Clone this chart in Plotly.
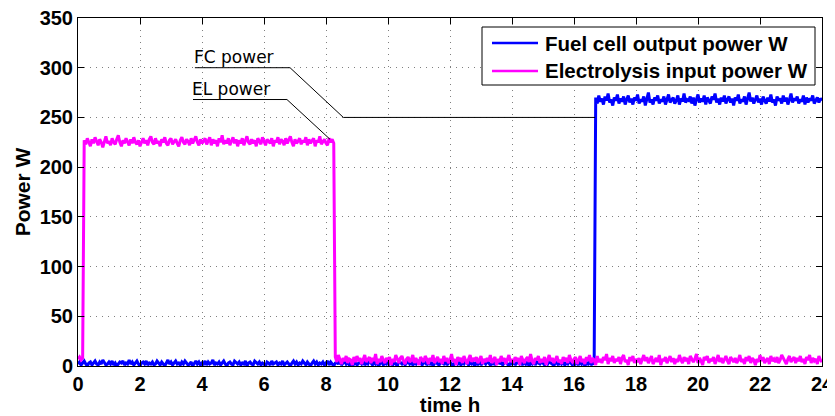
import numpy as np
import plotly.graph_objects as go

# sample grid: one reading every 0.05 h (3 min) over the day
time_h = np.round(np.arange(0, 481) * 0.05, 2)

# fuel cell output power (W)
fc_off = [  # 0 .. 16.65 h
    2, 4, 1, 3, 5, 2, 0, 3, 4, 1, 3, 5, 2, 1, 4, 2, 6, 3, 1, 2,
    4, 2, 5, 1, 3, 0, 2, 4, 3, 5, 1, 3, 2, 6, 2, 4, 1, 3, 5, 2,
    0, 3, 4, 2, 5, 1, 3, 2, 4, 1, 2, 5, 3, 1, 4, 2, 0, 3, 6, 2,
    4, 1, 3, 5, 2, 3, 1, 4, 2, 5, 3, 1, 2, 4, 0, 3, 5, 2, 4, 1,
    3, 2, 5, 1, 4, 2, 3, 6, 1, 3, 2, 4, 1, 3, 5, 2, 0, 3, 4, 2,
    1, 5, 3, 2, 4, 1, 3, 2, 5, 0, 3, 4, 2, 1, 5, 3, 2, 4, 1, 3,
    2, 0, 4, 3, 1, 5, 2, 3, 4, 1, 3, 2, 5, 1, 3, 4, 2, 0, 3, 5,
    2, 4, 1, 3, 2, 5, 3, 1, 4, 2, 0, 3, 5, 2, 4, 1, 3, 2, 4, 1,
    3, 5, 1, 4, 2, 0, 3, 4, 2, 6, 1, 3, 5, 2, 4, 1, 3, 0, 2, 4,
    1, 3, 4, 2, 5, 1, 3, 2, 6, 3, 1, 4, 2, 5, 0, 3, 4, 1, 3, 2,
    5, 2, 3, 1, 4, 2, 0, 5, 3, 2, 4, 1, 3, 5, 2, 4, 1, 3, 2, 6,
    2, 4, 1, 3, 5, 1, 3, 2, 4, 0, 3, 5, 2, 1, 4, 3, 2, 5, 1, 3,
    4, 2, 0, 3, 5, 2, 4, 1, 3, 2, 5, 3, 1, 4, 2, 3, 0, 4, 2, 5,
    1, 3, 4, 2, 5, 3, 1, 2, 4, 1, 3, 6, 2, 4, 1, 3, 5, 2, 0, 3,
    2, 5, 1, 3, 4, 2, 3, 1, 5, 2, 4, 0, 3, 2, 5, 1, 4, 3, 2, 4,
    3, 1, 4, 2, 5, 3, 2, 0, 4, 3, 1, 5, 2, 4, 1, 3, 2, 5, 3, 1,
    4, 2, 3, 1, 5, 2, 4, 0, 3, 2, 5, 1, 3, 2,
]
fc_on = [  # 16.7 .. 24 h
    270, 264, 272, 266, 269, 263, 271, 267, 274, 265, 268, 262, 270, 267, 273, 264, 269, 266, 271, 263,
    268, 272, 265, 269, 263, 270, 267, 273, 264, 268, 266, 271, 262, 269, 275, 265, 268, 263, 270, 267,
    272, 264, 268, 266, 271, 263, 269, 273, 265, 268, 270, 264, 267, 272, 263, 269, 266, 274, 265, 268,
    267, 271, 264, 270, 262, 268, 273, 265, 269, 266, 272, 263, 270, 267, 264, 271, 268, 274, 265, 269,
    263, 270, 266, 272, 264, 268, 271, 265, 269, 262, 270, 267, 273, 264, 268, 266, 271, 263, 269, 275,
    266, 270, 264, 268, 272, 265, 269, 263, 271, 267, 264, 270, 266, 273, 265, 268, 262, 271, 267, 269,
    264, 272, 266, 270, 263, 268, 274, 265, 269, 267, 271, 264, 268, 266, 272, 263, 270, 265, 269, 267,
    272, 264, 268, 270, 265, 269, 267,
]
fc_power = fc_off + fc_on

# electrolysis input power (W)
el_start = [7, 9, 6, 8]  # 0 .. 0.15 h
el_on = [  # 0.2 .. 8.25 h
    227, 223, 229, 225, 221, 228, 224, 230, 226, 222, 228, 225, 220, 227, 231, 224, 226, 222, 229, 225,
    223, 228, 232, 225, 221, 227, 224, 229, 226, 222, 228, 224, 230, 225, 223, 227, 221, 226, 229, 224,
    227, 222, 228, 231, 225, 223, 229, 224, 226, 221, 228, 225, 230, 224, 222, 227, 229, 223, 226, 228,
    224, 221, 227, 230, 225, 223, 228, 226, 222, 229, 224, 227, 231, 225, 222, 228, 224, 226, 229, 223,
    226, 230, 222, 228, 224, 227, 221, 229, 225, 232, 223, 227, 224, 229, 222, 226, 230, 224, 228, 221,
    227, 224, 229, 222, 226, 231, 225, 223, 228, 224, 227, 221, 229, 226, 223, 230, 225, 222, 228, 226,
    224, 229, 221, 227, 225, 230, 223, 228, 226, 222, 229, 224, 227, 231, 225, 221, 228, 224, 226, 229,
    223, 227, 225, 230, 222, 228, 224, 226, 229, 221, 227, 225, 231, 223, 226, 228, 224, 222, 229, 225,
    228, 224,
]
el_off = [  # 8.3 .. 24 h
    9, 4, 11, 6, 2, 8, 5, 10, 3, 7, 6, 1, 9, 4, 10, 5, 8, 2, 7, 11,
    4, 6, 9, 3, 8, 5, 12, 2, 7, 4, 10, 6, 3, 8, 5, 9, 1, 7, 4, 11,
    6, 3, 8, 10, 5, 2, 7, 9, 4, 6, 11, 3, 8, 5, 1, 9, 6, 4, 10, 7,
    2, 8, 5, 11, 3, 6, 9, 4, 7, 2, 10, 5, 8, 3, 6, 12, 4, 7, 1, 9,
    5, 8, 3, 10, 6, 2, 7, 11, 4, 8, 5, 9, 3, 6, 10, 2, 7, 4, 8, 5,
    11, 3, 6, 9, 1, 7, 4, 10, 5, 8, 2, 6, 11, 4, 7, 3, 9, 5, 8, 1,
    10, 6, 3, 7, 9, 4, 12, 5, 2, 8, 6, 10, 3, 7, 4, 9, 1, 6, 11, 5,
    8, 3, 7, 10, 4, 6, 2, 9, 5, 8, 3, 11, 6, 4, 7, 9, 2, 6, 10, 4,
    7, 2, 9, 5, 11, 3, 8, 6, 1, 10, 4, 7, 3, 9, 6, 12, 2, 8, 5, 10,
    3, 7, 5, 9, 2, 8, 11, 4, 6, 1, 9, 5, 10, 3, 7, 4, 8, 2, 6, 11,
    5, 9, 3, 7, 10, 2, 6, 8, 4, 11, 1, 7, 5, 9, 3, 6, 10, 4, 8, 2,
    7, 4, 11, 6, 3, 9, 5, 8, 2, 10, 6, 4, 7, 12, 3, 8, 5, 1, 9, 6,
    10, 3, 7, 5, 9, 2, 6, 11, 4, 8, 3, 7, 10, 5, 2, 9, 6, 4, 8, 3,
    6, 11, 4, 7, 2, 9, 5, 10, 3, 8, 6, 1, 7, 4, 11, 5, 9, 3, 6, 8,
    2, 10, 5, 7, 4, 9, 3, 6, 11, 8, 5, 2, 7, 10, 4, 6, 9, 3, 8, 5,
    10, 4, 7, 2, 9, 6, 11, 3, 8, 5, 7, 2, 10, 6, 4,
]
el_power = el_start + el_on + el_off

assert len(fc_power) == len(time_h) == len(el_power)

series_names = ["Fuel cell output power W", "Electrolysis input power W"]
series_colors = ["#0000FF", "#FF00FF"]

# the page body has an 8px margin, so the figure is 8px smaller and
# the margins are trimmed to keep the plot box at the same screen spot
OFF = 8
W, H = 835 - OFF, 416 - OFF
L, R, T, B = 78 - OFF, 13, 18 - OFF, 50
BOLD = dict(family="Liberation Sans, Arial, sans-serif", color="black", weight="bold")


def px2paper(px, py):
    # screen pixel -> paper fraction
    return (px - OFF - L) / (W - L - R), (H - B - (py - OFF)) / (H - T - B)


fig = go.Figure()
for name, vals, col in zip(series_names, [fc_power, el_power], series_colors):
    fig.add_trace(go.Scatter(
        x=time_h, y=vals, name=name, mode="lines",
        line=dict(color=col, width=3),
    ))

# callout lines for the two labels
fig.add_shape(type="path", xref="x", yref="y",
              path="M 3.77,300 L 6.84,300 L 8.56,250 L 16.68,250",
              line=dict(color="black", width=1))
fig.add_shape(type="path", xref="x", yref="y",
              path="M 3.71,268 L 6.74,268 L 8.13,228",
              line=dict(color="black", width=1))
fig.add_annotation(x=3.77, y=300, xref="x", yref="y", text="FC power",
                   showarrow=False, xanchor="left", yanchor="bottom", xshift=-3, yshift=-1,
                   font=dict(family="DejaVu Sans", size=17, color="black"))
fig.add_annotation(x=3.71, y=268, xref="x", yref="y", text="EL power",
                   showarrow=False, xanchor="left", yanchor="bottom", xshift=-3, yshift=-1,
                   font=dict(family="DejaVu Sans", size=17, color="black"))

# hand-drawn legend box (matlab style)
x0, y0 = px2paper(482, 85)
x1, y1 = px2paper(815, 27)
fig.add_shape(type="rect", xref="paper", yref="paper", x0=x0, y0=y0, x1=x1, y1=y1,
              line=dict(color="black", width=1), fillcolor="white", layer="above")
for i, (name, col) in enumerate(zip(series_names, series_colors)):
    row_y = 43 + 28 * i
    lx0, ly = px2paper(492, row_y)
    lx1, _ = px2paper(538, row_y)
    fig.add_shape(type="line", xref="paper", yref="paper", x0=lx0, x1=lx1, y0=ly, y1=ly,
                  line=dict(color=col, width=2.5), layer="above")
    tx, _ = px2paper(543, row_y)
    fig.add_annotation(x=tx, y=ly, xref="paper", yref="paper", text=name,
                       showarrow=False, xanchor="left", yanchor="middle",
                       font=dict(size=20.5, **BOLD))

axis_style = dict(
    showline=True, linecolor="black", linewidth=1, mirror="ticks",
    ticks="inside", ticklen=6, tickcolor="black",
    showgrid=True, gridcolor="#7f7f7f", gridwidth=1, griddash="1px,5px",
    zeroline=False, tickfont=dict(size=20, **BOLD), automargin=False,
    ticklabeloverflow="allow",
)
fig.update_xaxes(range=[0, 24], dtick=2, title=dict(text="time h", font=dict(size=20.5, **BOLD), standoff=1),
                 **axis_style)
fig.update_yaxes(range=[0, 350], dtick=50, title=dict(text="Power W", font=dict(size=21, **BOLD), standoff=3),
                 **axis_style)

fig.update_layout(
    width=W, height=H,
    margin=dict(l=L, r=R, t=T, b=B),
    plot_bgcolor="white", paper_bgcolor="white",
    showlegend=False,
)
fig.write_html("out.html")
